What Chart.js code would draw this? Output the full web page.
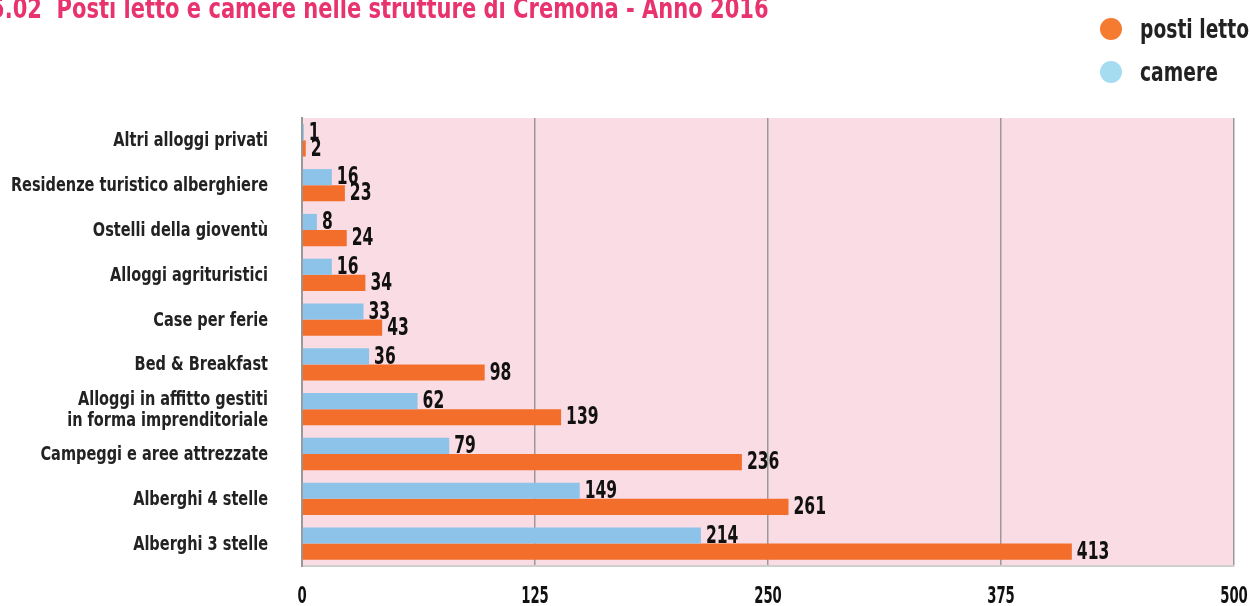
<!DOCTYPE html>
<html>
<head>
<meta charset="utf-8">
<script src="https://cdn.jsdelivr.net/npm/chart.js@4.4.0/dist/chart.umd.min.js"></script>
<style>
  html, body { margin: 0; padding: 0; background: #fff; }
  body { width: 1250px; height: 606px; position: relative; overflow: hidden;
         font-family: "DejaVu Sans Condensed", "Liberation Sans Narrow", sans-serif; }
  #title { position: absolute; left: -10px; top: -8px; color: #E8336E; font-weight: bold;
           font-size: 28px; white-space: nowrap; transform: scaleX(0.835); transform-origin: left top; }
  .legend { position: absolute; left: 1100px; font-weight: bold; font-size: 26px; color: #222;
            white-space: nowrap; }
  .legend span { display: inline-block; width: 22px; height: 22px; border-radius: 50%;
                 vertical-align: -2px; margin-right: 18px; }
  .legend b { display: inline-block; transform: scaleX(0.8); transform-origin: left center; }
  #wrap { position: absolute; left: 0; top: 0; width: 1250px; height: 606px; }
</style>
</head>
<body>
<div id="wrap"><canvas id="chart"></canvas></div>
<div id="title">5.02&nbsp; Posti letto e camere nelle strutture di Cremona - Anno 2016</div>
<div class="legend" style="top:14px"><span style="background:#F47B30"></span><b>posti letto</b></div>
<div class="legend" style="top:57px"><span style="background:#A5DCF0"></span><b>camere</b></div>
<script>
const categories = [
  'Altri alloggi privati',
  'Residenze turistico alberghiere',
  'Ostelli della gioventù',
  'Alloggi agrituristici',
  'Case per ferie',
  'Bed & Breakfast',
  ['Alloggi in affitto gestiti', 'in forma imprenditoriale'],
  'Campeggi e aree attrezzate',
  'Alberghi 4 stelle',
  'Alberghi 3 stelle'
];
const camere = [1, 16, 8, 16, 33, 36, 62, 79, 149, 214];
const postiLetto = [2, 23, 24, 34, 43, 98, 139, 236, 261, 413];
const xTicks = [0, 125, 250, 375, 500];

const fontFamily = '"DejaVu Sans Condensed", "Liberation Sans Narrow", sans-serif';

// draw text squeezed horizontally to look like a condensed face
function narrowText(ctx, text, x, y, sx, align) {
  ctx.save();
  ctx.translate(x, y);
  ctx.scale(sx, 1);
  ctx.textAlign = align;
  ctx.fillText(text, 0, 0);
  ctx.restore();
}

// pink plot background
const plotBg = {
  id: 'plotBg',
  beforeDraw(chart) {
    const { ctx, chartArea: a } = chart;
    ctx.save();
    ctx.fillStyle = '#FADCE4';
    ctx.fillRect(a.left, a.top, a.right - a.left, a.bottom - a.top);
    ctx.restore();
  }
};

// category labels, x tick labels and bar values
const textLayer = {
  id: 'textLayer',
  afterDraw(chart) {
    const ctx = chart.ctx;
    const xs = chart.scales.x, ys = chart.scales.y;
    ctx.save();
    ctx.textBaseline = 'middle';

    ctx.fillStyle = '#222';
    ctx.font = 'bold 19px ' + fontFamily;
    categories.forEach((c, i) => {
      const y = ys.getPixelForTick(i);
      const lines = Array.isArray(c) ? c : [c];
      lines.forEach((ln, k) => {
        narrowText(ctx, ln, 268, y + 1 + (k - (lines.length - 1) / 2) * 21, 0.85, 'right');
      });
    });

    ctx.fillStyle = '#111';
    ctx.font = 'bold 23px ' + fontFamily;
    xTicks.forEach(v => {
      narrowText(ctx, String(v), xs.getPixelForValue(v), 597, 0.64, 'center');
    });

    ctx.font = 'bold 24px ' + fontFamily;
    chart.data.datasets.forEach((ds, i) => {
      chart.getDatasetMeta(i).data.forEach((bar, j) => {
        narrowText(ctx, String(ds.data[j]), bar.x + 5, bar.y + 1, 0.72, 'left');
      });
    });
    ctx.restore();
  }
};

new Chart(document.getElementById('chart'), {
  type: 'bar',
  data: {
    labels: categories,
    datasets: [{
      label: 'camere',
      data: camere,
      backgroundColor: '#8DC3E9',
      barPercentage: 1,
      categoryPercentage: 0.72
    }, {
      label: 'posti letto',
      data: postiLetto,
      backgroundColor: '#F26E2A',
      barPercentage: 1,
      categoryPercentage: 0.72
    }]
  },
  options: {
    indexAxis: 'y',
    responsive: true,
    maintainAspectRatio: false,
    animation: false,
    layout: { padding: { left: 0, right: 16, top: 118, bottom: 0 } },
    scales: {
      x: {
        min: 0,
        max: 500,
        afterBuildTicks: scale => { scale.ticks = xTicks.map(v => ({ value: v })); },
        afterFit: scale => { scale.height = 40; },
        grid: { color: '#999', lineWidth: 1.5, drawTicks: false },
        border: { color: '#cfcfcf', width: 2 },
        ticks: { display: false }
      },
      y: {
        afterFit: scale => { scale.width = 302; },
        grid: { display: false },
        border: { color: '#999', width: 2 },
        ticks: { display: false }
      }
    },
    plugins: {
      legend: { display: false },
      tooltip: { enabled: false }
    }
  },
  plugins: [plotBg, textLayer]
});
</script>
</body>
</html>
